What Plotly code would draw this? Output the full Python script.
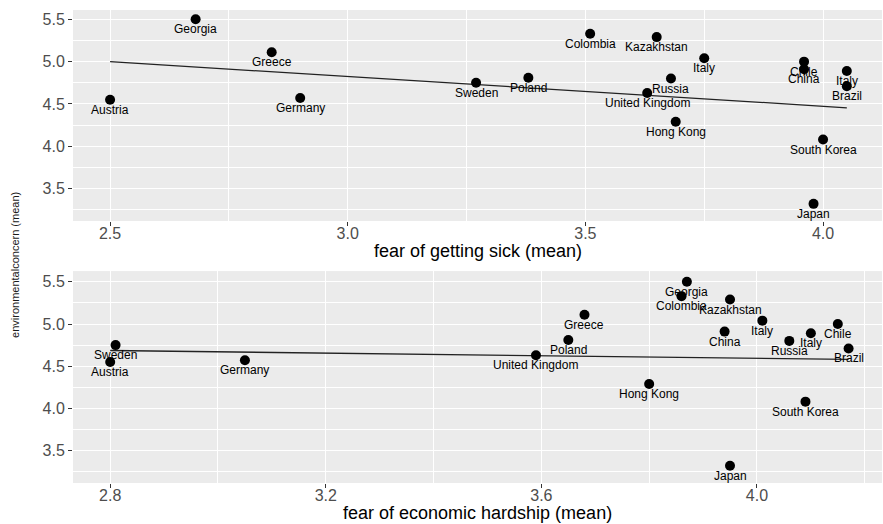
import plotly.graph_objects as go

countries = ["Austria", "Georgia", "Greece", "Germany", "Sweden", "Poland", "Colombia",
             "Kazakhstan", "Italy", "Russia", "United Kingdom", "Hong Kong", "Chile",
             "China", "Italy", "Brazil", "South Korea", "Japan"]
env_concern = [4.55, 5.50, 5.11, 4.57, 4.75, 4.81, 5.33, 5.29, 5.04, 4.80, 4.63, 4.29,
               5.00, 4.91, 4.89, 4.71, 4.08, 3.32]
fear_sick = [2.50, 2.68, 2.84, 2.90, 3.27, 3.38, 3.51, 3.65, 3.75, 3.68, 3.63, 3.69,
             3.96, 3.96, 4.05, 4.05, 4.00, 3.98]
fear_econ = [2.80, 3.87, 3.68, 3.05, 2.81, 3.65, 3.86, 3.95, 4.01, 4.06, 3.59, 3.80,
             4.15, 3.94, 4.10, 4.17, 4.09, 3.95]

# fitted trend values at the smallest and largest x of each panel
trend_sick = [5.00, 4.455]
trend_econ = [4.686, 4.58]

x_title_sick = "fear of getting sick (mean)"
x_title_econ = "fear of economic hardship (mean)"
y_title = "environmentalconcern (mean)"

FONT = "Liberation Sans, Arial, sans-serif"
fig = go.Figure()

annotations = []
for xs, trend, xa, ya in [(fear_sick, trend_sick, "x", "y"), (fear_econ, trend_econ, "x2", "y2")]:
    lx = [min(xs), max(xs)]
    fig.add_trace(go.Scatter(x=lx, y=trend, mode="lines",
                             line=dict(color="#222222", width=1.3),
                             xaxis=xa, yaxis=ya, showlegend=False, hoverinfo="skip"))
    fig.add_trace(go.Scatter(x=xs, y=env_concern, mode="markers",
                             marker=dict(color="black", size=10),
                             xaxis=xa, yaxis=ya, showlegend=False))
    for c, xv, yv in zip(countries, xs, env_concern):
        annotations.append(dict(x=xv, y=yv, xref=xa, yref=ya, text=c, showarrow=False,
                                yanchor="middle", yshift=-10,
                                font=dict(family=FONT, size=12, color="black")))

annotations.append(dict(x=0, y=0.461, xref="paper", yref="paper", xshift=-58,
                        xanchor="center", yanchor="middle",
                        text=y_title, showarrow=False, textangle=-90,
                        font=dict(family=FONT, size=11, color="#1a1a1a")))
annotations.append(dict(x=0.5, y=0, xref="x domain", yref="y domain", yshift=-30,
                        xanchor="center", yanchor="middle", text=x_title_sick,
                        showarrow=False, font=dict(family=FONT, size=18, color="black")))
annotations.append(dict(x=0.5, y=0, xref="x2 domain", yref="y2 domain", yshift=-30,
                        xanchor="center", yanchor="middle", text=x_title_econ,
                        showarrow=False, font=dict(family=FONT, size=18, color="black")))

common_axis = dict(showgrid=True, gridcolor="white", gridwidth=1.1, zeroline=False,
                   showline=False, ticks="outside", ticklen=4, tickcolor="#333333",
                   tickwidth=1, tickfont=dict(family=FONT, size=16, color="#4D4D4D"))

fig.update_layout(
    width=883, height=524,
    margin=dict(l=73, r=1, t=10, b=41),
    paper_bgcolor="white", plot_bgcolor="#EBEBEB",
    font=dict(family=FONT),
    annotations=annotations,
    xaxis=dict(common_axis, domain=[0, 1], anchor="y", range=[2.422, 4.124],
               tickvals=[2.5, 3.0, 3.5, 4.0], ticktext=["2.5", "3.0", "3.5", "4.0"],
               ticklabelstandoff=-6,
               minor=dict(showgrid=True, gridcolor="white", gridwidth=0.5,
                          tickvals=[2.25, 2.75, 3.25, 3.75])),
    yaxis=dict(common_axis, domain=[0.554, 1], anchor="x", range=[3.118, 5.61],
               tickvals=[3.5, 4.0, 4.5, 5.0, 5.5], ticktext=["3.5", "4.0", "4.5", "5.0", "5.5"],
               minor=dict(showgrid=True, gridcolor="white", gridwidth=0.5,
                          tickvals=[3.25, 3.75, 4.25, 4.75, 5.25])),
    xaxis2=dict(common_axis, domain=[0, 1], anchor="y2", range=[2.731, 4.232],
                tickvals=[2.8, 3.2, 3.6, 4.0], ticktext=["2.8", "3.2", "3.6", "4.0"],
                ticklabelstandoff=-6,
                minor=dict(showgrid=True, gridcolor="white", gridwidth=0.5,
                           tickvals=[3.0, 3.4, 3.8, 4.2])),
    yaxis2=dict(common_axis, domain=[0, 0.448], anchor="x2", range=[3.116, 5.627],
                tickvals=[3.5, 4.0, 4.5, 5.0, 5.5], ticktext=["3.5", "4.0", "4.5", "5.0", "5.5"],
                minor=dict(showgrid=True, gridcolor="white", gridwidth=0.5,
                           tickvals=[3.25, 3.75, 4.25, 4.75, 5.25])),
)

fig.write_html("out.html", config={"displayModeBar": False},
               post_script="document.body.style.margin='0';document.body.style.overflow='hidden';")
